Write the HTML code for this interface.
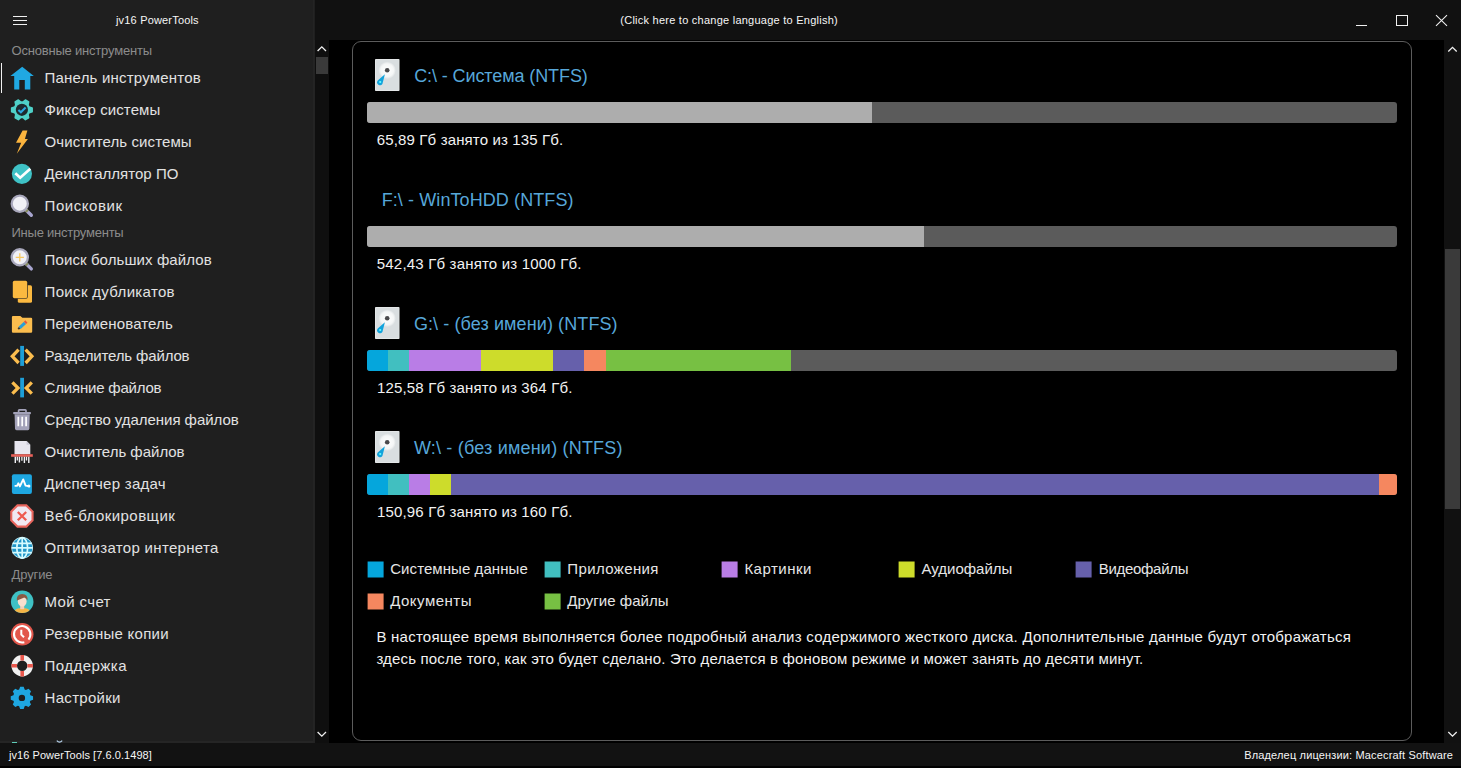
<!DOCTYPE html>
<html lang="ru">
<head>
<meta charset="utf-8">
<title>jv16 PowerTools</title>
<style>
html,body{margin:0;padding:0;}
body{width:1461px;height:768px;overflow:hidden;background:#000;font-family:"Liberation Sans",sans-serif;color:#e4e4e4;position:relative;}
*{box-sizing:border-box;}
.abs{position:absolute;}
.t{position:absolute;white-space:nowrap;line-height:1;transform-origin:0 50%;}
/* regions */
#titlebar{left:315px;top:0;width:1146px;height:40px;background:#111;}
#sidebar{left:0;top:0;width:315px;height:743px;background:#1f1f1f;overflow:hidden;}
#sbsep{left:313px;top:0;width:1px;height:743px;background:#242424;}
#sbsep2{left:314px;top:40px;width:1px;height:703px;background:#232323;}
#lscroll{left:315px;top:40px;width:14px;height:703px;background:#0f0f0f;}
#rscroll{left:1444px;top:40px;width:17px;height:703px;background:#111;}
#status{left:0;top:743px;width:1461px;height:25px;background:#121212;}
#statusb{left:0;top:766px;width:1461px;height:2px;background:#000;}
#panel{left:352px;top:41px;width:1060px;height:700px;border:1px solid #5c5c5c;border-radius:9px;background:#000;}
.thumb{background:#3a3a3a;}
/* sidebar */
.sec{color:#8c8c8c;font-size:13px;left:11px;}
.it{color:#e2e2e2;font-size:16px;left:44px;}
.ic{position:absolute;left:10px;width:24px;height:24px;}
/* content */
.dt{color:#57a7d9;font-size:18px;}
.du{color:#f2f2f2;font-size:14.5px;left:376px;}
.bar{position:absolute;left:367px;width:1030px;height:21px;border-radius:3px;background:#5b5b5b;overflow:hidden;}
.bar i{position:absolute;top:0;height:21px;display:block;}
.lg{position:absolute;width:16px;height:16px;transform:translate(-0.4px,-0.5px);}
.lt{color:#e6e6e6;font-size:15px;}
.c1{background:#05a6dc;}.c2{background:#41bfc0;}.c3{background:#b97de6;}.c4{background:#cddc2b;}.c5{background:#6660ab;}.c6{background:#f5875f;}.c7{background:#77c043;}
.small{font-size:11px;color:#f6f6f6;}
</style>
</head>
<body>
<div id="titlebar" class="abs"></div>
<div id="sidebar" class="abs"></div>
<div id="sbsep" class="abs"></div>
<div id="sbsep2" class="abs"></div>
<div id="lscroll" class="abs"></div>
<div id="rscroll" class="abs"></div>
<div id="panel" class="abs"></div>
<div id="status" class="abs"></div>
<div id="statusb" class="abs"></div>
<!-- hamburger -->
<div class="abs" style="left:13px;top:16px;width:14px;height:1px;background:#f0f0f0"></div>
<div class="abs" style="left:13px;top:20px;width:14px;height:1px;background:#f0f0f0"></div>
<div class="abs" style="left:13px;top:24px;width:14px;height:1px;background:#f0f0f0"></div>
<!-- clipped language link at sidebar bottom -->
<div class="abs" style="left:0;top:741px;width:313px;height:2px;background:#252525"></div>
<div class="abs" style="left:12px;top:742px;width:5px;height:1px;background:#5fcdb8"></div>
<svg class="abs" style="left:56px;top:740px" width="7" height="3" viewBox="0 0 7 3"><path d="M0.8 0.6 Q3.5 3.6 6.2 0.6" fill="none" stroke="#b8d4ee" stroke-width="1.2"/></svg>
<!-- selected marker -->
<div class="abs" style="left:1px;top:63px;width:1px;height:30px;background:#f2f2f2"></div>
<!-- window controls -->
<svg class="abs" style="left:1350px;top:8px" width="104" height="24" viewBox="0 0 104 24" fill="none" stroke="#f0f0f0" stroke-width="1">
<path d="M6 17.5H17"/>
<rect x="46.5" y="7.5" width="11" height="10"/>
<path d="M86 7.2 L97 17.8 M97 7.2 L86 17.8" stroke-width="1.1"/>
</svg>
<!-- left scrollbar -->
<svg class="abs" style="left:315px;top:40px" width="14" height="20" viewBox="0 0 14 20" fill="none" stroke="#f0f0f0" stroke-width="1.3"><path d="M2.6 11 L6.8 6.8 L11 11"/></svg>
<div class="abs thumb" style="left:316px;top:57px;width:12px;height:17px"></div>
<svg class="abs" style="left:315px;top:723px" width="14" height="20" viewBox="0 0 14 20" fill="none" stroke="#f0f0f0" stroke-width="1.3"><path d="M2.6 9 L6.8 13.2 L11 9"/></svg>
<!-- right scrollbar -->
<svg class="abs" style="left:1444px;top:40px" width="17" height="20" viewBox="0 0 17 20" fill="none" stroke="#f0f0f0" stroke-width="1.3"><path d="M4.3 11.5 L8.5 7.3 L12.7 11.5"/></svg>
<div class="abs thumb" style="left:1445px;top:249px;width:15px;height:260px"></div>
<svg class="abs" style="left:1444px;top:723px" width="17" height="20" viewBox="0 0 17 20" fill="none" stroke="#f0f0f0" stroke-width="1.3"><path d="M4.3 9 L8.5 13.2 L12.7 9"/></svg>
<!-- bars -->
<div class="bar" style="top:102px"><i style="left:0;width:505px;background:#adadad"></i></div>
<div class="bar" style="top:226px"><i style="left:0;width:557px;background:#adadad"></i></div>
<div class="bar" style="top:350px"><i class="c1" style="left:0;width:21px"></i><i class="c2" style="left:21px;width:21px"></i><i class="c3" style="left:42px;width:72px"></i><i class="c4" style="left:114px;width:72px"></i><i class="c5" style="left:186px;width:31px"></i><i class="c6" style="left:217px;width:22px"></i><i class="c7" style="left:239px;width:185px"></i></div>
<div class="bar" style="top:474px"><i class="c1" style="left:0;width:21px"></i><i class="c2" style="left:21px;width:21px"></i><i class="c3" style="left:42px;width:21px"></i><i class="c4" style="left:63px;width:21px"></i><i class="c5" style="left:84px;width:928px"></i><i class="c6" style="left:1012px;width:18px"></i></div>
<!-- legend -->
<div class="lg c1" style="left:368px;top:562px"></div>
<div class="lg c2" style="left:545px;top:562px"></div>
<div class="lg c3" style="left:722px;top:562px"></div>
<div class="lg c4" style="left:899px;top:562px"></div>
<div class="lg c5" style="left:1076px;top:562px"></div>
<div class="lg c6" style="left:368px;top:594px"></div>
<div class="lg c7" style="left:545px;top:594px"></div>

<svg class="ic" style="top:65px" viewBox="0 0 24 24" overflow="visible"><path fill="#20a8e2" d="M12.2 1.7 L23.8 10.9 L20.3 10.9 L20.3 24.4 L14.8 24.4 L14.8 15 L9.3 15 L9.3 24.4 L4.2 24.4 L4.2 10.9 L0.4 10.9 Z"/></svg>
<svg class="ic" style="top:97px" viewBox="0 0 24 24" overflow="visible"><path fill="#4fd1c8" stroke="#4fd1c8" stroke-width="1.6" stroke-linejoin="round" d="M19.03 9.89 L22.14 10.96 L22.14 14.64 L19.03 15.71 L17.98 17.52 L18.61 20.74 L15.42 22.59 L12.95 20.43 L10.85 20.43 L8.38 22.59 L5.19 20.74 L5.82 17.52 L4.77 15.71 L1.66 14.64 L1.66 10.96 L4.77 9.89 L5.82 8.08 L5.19 4.86 L8.38 3.01 L10.85 5.17 L12.95 5.17 L15.42 3.01 L18.61 4.86 L17.98 8.08Z"/><circle cx="11.9" cy="12.8" r="6.1" fill="#1d2a2e"/><path d="M8.4 12.9 L10.9 15.2 L15.6 10.6" fill="none" stroke="#2ba7e0" stroke-width="2.1"/></svg>
<svg class="ic" style="top:129px" viewBox="0 0 24 24" overflow="visible"><path fill="#fbb43e" d="M12.6 1.4 L17.4 1.4 L14.9 9.9 L17.9 9.9 L6.8 24.7 L11.2 13.8 L6 13.8 Z"/></svg>
<svg class="ic" style="top:161px" viewBox="0 0 24 24" overflow="visible"><circle cx="11.9" cy="12.8" r="10.1" fill="#3fc2c6"/><path d="M5.3 12.2 L10.2 16.7 L20.3 7.7" fill="none" stroke="#fff" stroke-width="2.7"/></svg>
<svg class="ic" style="top:193px" viewBox="0 0 24 24" overflow="visible"><path d="M15.2 16.2 L21.3 22.3" stroke="#a8a5cf" stroke-width="3.4" stroke-linecap="round"/><path d="M14.6 15.6 L17.6 18.6" stroke="#868b5c" stroke-width="3.2"/><circle cx="9.8" cy="10.7" r="8.1" fill="#f1f1f6" stroke="#a9a8bc" stroke-width="2.3"/></svg>
<svg class="ic" style="top:247px" viewBox="0 0 24 24" overflow="visible"><g transform="translate(0,-0.4)"><path d="M15.2 16.2 L21.3 22.3" stroke="#a8a5cf" stroke-width="3.4" stroke-linecap="round"/><path d="M14.6 15.6 L17.6 18.6" stroke="#868b5c" stroke-width="3.2"/><circle cx="9.8" cy="10.7" r="8.1" fill="#f1f1f6" stroke="#a9a8bc" stroke-width="2.3"/><path d="M9.8 6.6 V14.8 M5.7 10.7 H13.9" stroke="#f8c860" stroke-width="1.3"/></g></svg>
<svg class="ic" style="top:279px" viewBox="0 0 24 24" overflow="visible"><rect x="7.8" y="6.3" width="14.2" height="17.5" rx="1.6" fill="#fbb940"/><rect x="2.2" y="1.2" width="15.6" height="18.6" rx="2.2" fill="#1f1f1f"/><rect x="2.8" y="1.8" width="14.4" height="17.4" rx="1.6" fill="#fbb940"/></svg>
<svg class="ic" style="top:311px" viewBox="0 0 24 24" overflow="visible"><path fill="#fbbd4e" d="M3 4.9 H10.3 L12.4 6.8 H21 Q22.2 6.8 22.2 8 V20.6 Q22.2 21.8 21 21.8 H3 Q1.9 21.8 1.9 20.6 V6 Q1.9 4.9 3 4.9Z"/><path d="M9.6 16.8 L15 11.8" stroke="#2a9fd8" stroke-width="3.1"/><path d="M15 11.8 L16.4 10.5" stroke="#e8523f" stroke-width="3.1"/><path d="M8.2 18.1 L9.6 16.8" stroke="#3a3a3a" stroke-width="2"/></svg>
<svg class="ic" style="top:343px" viewBox="0 0 24 24" overflow="visible"><rect x="10.2" y="2.9" width="3.8" height="20" fill="#1e9fd8"/><path d="M8.6 6.6 L2.3 13.3 L8.6 20" fill="none" stroke="#fbbd4e" stroke-width="3.3"/><path d="M15.6 6.6 L21.9 13.3 L15.6 20" fill="none" stroke="#fbbd4e" stroke-width="3.3"/></svg>
<svg class="ic" style="top:375px" viewBox="0 0 24 24" overflow="visible"><rect x="10.2" y="2.8" width="3.8" height="19.6" fill="#1e9fd8"/><path d="M2.4 7.4 L8 13 L2.4 18.7" fill="none" stroke="#fbbd4e" stroke-width="3.3"/><path d="M21.8 7.4 L16.2 13 L21.8 18.7" fill="none" stroke="#fbbd4e" stroke-width="3.3"/></svg>
<svg class="ic" style="top:407px" viewBox="0 0 24 24" overflow="visible"><path d="M8.6 5.2 V3.6 Q8.6 2.8 9.4 2.8 H15.2 Q16 2.8 16 3.6 V5.2" fill="none" stroke="#a3a2b9" stroke-width="1.7"/><rect x="3.2" y="5" width="17.7" height="2.2" rx="0.6" fill="#a3a2b9"/><path fill="#a3a2b9" d="M4.6 7.2 H19.8 L19.4 21.6 Q19.3 23.2 17.8 23.2 H6.6 Q5.1 23.2 5 21.6Z"/><path d="M8.3 9.7 V19.2 M12.2 9.7 V19.2 M16.1 9.7 V19.2" stroke="#fff" stroke-width="1.7"/></svg>
<svg class="ic" style="top:439px" viewBox="0 0 24 24" overflow="visible"><path fill="#e7e6ef" d="M4.5 2 H16.6 L20.3 5.7 V15.2 H4.5Z"/><path fill="#c9c8d6" d="M16.6 2 V5.7 H20.3Z"/><rect x="1.1" y="15.2" width="21.7" height="2.6" fill="#e8615a"/><path d="M5.3 17.8 V24 M9.4 17.8 V23.6 M14.4 17.8 V24 M18.8 17.8 V24" stroke="#f2f2f6" stroke-width="1.4"/><path d="M7.3 17.8 V21.5 M11.9 17.8 V21.8 M16.5 17.8 V21.4" stroke="#f2f2f6" stroke-width="1.3"/></svg>
<svg class="ic" style="top:471px" viewBox="0 0 24 24" overflow="visible"><rect x="1.9" y="3.2" width="20" height="19.7" rx="2" fill="#1ea7e1"/><path d="M4.6 14.9 H7 L8.3 12.3 L9.9 15.4 L13.2 8.4 L15.6 14.6 L19.9 15.2" fill="none" stroke="#fff" stroke-width="1.9" stroke-linejoin="round"/><circle cx="18.9" cy="14.9" r="1.5" fill="#fff"/></svg>
<svg class="ic" style="top:503px" viewBox="0 0 24 24" overflow="visible"><path d="M23.60 17.85 L16.75 24.70 L7.05 24.70 L0.20 17.85 L0.20 8.15 L7.05 1.30 L16.75 1.30 L23.60 8.15Z" fill="#e8655d"/><path d="M21.50 16.98 L15.88 22.60 L7.92 22.60 L2.30 16.98 L2.30 9.02 L7.92 3.40 L15.88 3.40 L21.50 9.02Z" fill="#f0e9f3"/><path d="M7.8 9 L16.2 17.2 M16.2 9 L7.8 17.2" stroke="#ee5a50" stroke-width="2.3"/></svg>
<svg class="ic" style="top:535px" viewBox="0 0 24 24" overflow="visible"><circle cx="12.2" cy="12.9" r="10.8" fill="#bfeef8"/><circle cx="12.2" cy="12.9" r="10.2" fill="#2196c8"/><g fill="none" stroke="#d6fbff" stroke-width="1.7"><path d="M2.6 8.4 H21.8 M1.6 12.9 H22.8 M2.6 17.6 H21.8 M12.2 2.2 V23.6"/><ellipse cx="12.2" cy="12.9" rx="5.4" ry="10.3"/></g></svg>
<svg class="ic" style="top:589px" viewBox="0 0 24 24" overflow="visible"><defs><clipPath id="ac"><circle cx="12.2" cy="12.8" r="11.3"/></clipPath></defs><circle cx="12.2" cy="12.8" r="11.3" fill="#3fc1c4"/><g clip-path="url(#ac)"><path d="M3.5 25 Q4 19.6 9 19.2 H15.4 Q20.4 19.6 20.9 25Z" fill="#f6b445"/><rect x="10.2" y="15" width="4" height="5.2" fill="#f3cfb8"/><ellipse cx="12.2" cy="12.4" rx="4.4" ry="5.2" fill="#f8dfce"/><path d="M6.9 11.6 Q6.2 5 12.2 4.9 Q18.2 5 17.5 11.6 Q16.3 9.2 14.2 8.6 Q11 10 6.9 11.6Z" fill="#8a5a44"/></g></svg>
<svg class="ic" style="top:621px" viewBox="0 0 24 24" overflow="visible"><circle cx="12.2" cy="13.3" r="11.3" fill="#e2574c"/><path d="M14.32 21.22 A8.2 8.2 0 1 1 18.48 18.57" fill="none" stroke="#fff" stroke-width="2.1"/><path d="M11.3 8.8 V13.6 L14 16.3" fill="none" stroke="#fff" stroke-width="2"/></svg>
<svg class="ic" style="top:653px" viewBox="0 0 24 24" overflow="visible"><circle cx="12.2" cy="12.8" r="7.95" fill="none" stroke="#f1f1f1" stroke-width="5.5"/><path d="M12.2 2.1 V7.6 M12.2 18 V23.5 M1.5 12.8 H7 M17.4 12.8 H22.9" stroke="#e9574c" stroke-width="3.6"/></svg>
<svg class="ic" style="top:685px" viewBox="0 0 24 24" overflow="visible"><path fill="#1ea7e1" fill-rule="evenodd" d="M14.65 21.36 L13.67 24.06 L10.13 24.06 L9.15 21.36 L7.86 20.83 L5.26 22.04 L2.76 19.54 L3.97 16.94 L3.44 15.65 L0.74 14.67 L0.74 11.13 L3.44 10.15 L3.97 8.86 L2.76 6.26 L5.26 3.76 L7.86 4.97 L9.15 4.44 L10.13 1.74 L13.67 1.74 L14.65 4.44 L15.94 4.97 L18.54 3.76 L21.04 6.26 L19.83 8.86 L20.36 10.15 L23.06 11.13 L23.06 14.67 L20.36 15.65 L19.83 16.94 L21.04 19.54 L18.54 22.04 L15.94 20.83Z M15.1 12.9 A3.2 3.2 0 1 0 8.7 12.9 A3.2 3.2 0 1 0 15.1 12.9Z"/></svg>
<svg class="abs" style="left:375px;top:59px" width="25" height="32" viewBox="0 0 25 32"><defs><radialGradient id="pl0" cx="50%" cy="50%" r="50%"><stop offset="0" stop-color="#ffffff"/><stop offset="0.75" stop-color="#f4f6f6"/><stop offset="1" stop-color="#dde1e3"/></radialGradient></defs><rect x="0" y="0" width="24.5" height="32" rx="0.8" fill="#e6e9ea"/><rect x="0.8" y="0.8" width="22.9" height="30.4" fill="#d9dee0"/><circle cx="12.2" cy="11.3" r="8.6" fill="url(#pl0)"/><circle cx="12.2" cy="11.3" r="2.3" fill="#4a4a4c"/><path d="M9.9 15.2 L2.7 21.6 A2.9 2.9 0 1 0 7.4 25 Z" fill="#12a3dc"/><circle cx="5.2" cy="23" r="1.1" fill="#6ff"/></svg>
<svg class="abs" style="left:375px;top:307px" width="25" height="32" viewBox="0 0 25 32"><defs><radialGradient id="pl1" cx="50%" cy="50%" r="50%"><stop offset="0" stop-color="#ffffff"/><stop offset="0.75" stop-color="#f4f6f6"/><stop offset="1" stop-color="#dde1e3"/></radialGradient></defs><rect x="0" y="0" width="24.5" height="32" rx="0.8" fill="#e6e9ea"/><rect x="0.8" y="0.8" width="22.9" height="30.4" fill="#d9dee0"/><circle cx="12.2" cy="11.3" r="8.6" fill="url(#pl1)"/><circle cx="12.2" cy="11.3" r="2.3" fill="#4a4a4c"/><path d="M9.9 15.2 L2.7 21.6 A2.9 2.9 0 1 0 7.4 25 Z" fill="#12a3dc"/><circle cx="5.2" cy="23" r="1.1" fill="#6ff"/></svg>
<svg class="abs" style="left:375px;top:431px" width="25" height="32" viewBox="0 0 25 32"><defs><radialGradient id="pl2" cx="50%" cy="50%" r="50%"><stop offset="0" stop-color="#ffffff"/><stop offset="0.75" stop-color="#f4f6f6"/><stop offset="1" stop-color="#dde1e3"/></radialGradient></defs><rect x="0" y="0" width="24.5" height="32" rx="0.8" fill="#e6e9ea"/><rect x="0.8" y="0.8" width="22.9" height="30.4" fill="#d9dee0"/><circle cx="12.2" cy="11.3" r="8.6" fill="url(#pl2)"/><circle cx="12.2" cy="11.3" r="2.3" fill="#4a4a4c"/><path d="M9.9 15.2 L2.7 21.6 A2.9 2.9 0 1 0 7.4 25 Z" fill="#12a3dc"/><circle cx="5.2" cy="23" r="1.1" fill="#6ff"/></svg>
<div class="t small" style="left:116.0px;top:14.7px;font-size:11px;letter-spacing:0.179px;">jv16 PowerTools</div>
<div class="t sec" style="left:11.5px;top:44.0px;font-size:13px;letter-spacing:-0.199px;">Основные инструменты</div>
<div class="t sec" style="left:11.5px;top:226.0px;font-size:13px;letter-spacing:-0.232px;">Иные инструменты</div>
<div class="t sec" style="left:11.5px;top:568.0px;font-size:13px;letter-spacing:-0.105px;">Другие</div>
<div class="t it" style="left:44.6px;top:70.1px;font-size:15px;letter-spacing:0.201px;">Панель инструментов</div>
<div class="t it" style="left:44.6px;top:102.1px;font-size:15px;letter-spacing:0.101px;">Фиксер системы</div>
<div class="t it" style="left:44.6px;top:134.1px;font-size:15px;letter-spacing:0.093px;">Очиститель системы</div>
<div class="t it" style="left:44.6px;top:166.1px;font-size:15px;letter-spacing:0.030px;">Деинсталлятор ПО</div>
<div class="t it" style="left:44.6px;top:198.1px;font-size:15px;letter-spacing:0.550px;">Поисковик</div>
<div class="t it" style="left:44.6px;top:252.1px;font-size:15px;letter-spacing:0.096px;">Поиск больших файлов</div>
<div class="t it" style="left:44.6px;top:284.1px;font-size:15px;letter-spacing:0.325px;">Поиск дубликатов</div>
<div class="t it" style="left:44.6px;top:316.1px;font-size:15px;letter-spacing:0.128px;">Переименователь</div>
<div class="t it" style="left:44.6px;top:348.1px;font-size:15px;letter-spacing:-0.150px;">Разделитель файлов</div>
<div class="t it" style="left:44.6px;top:380.1px;font-size:15px;letter-spacing:-0.197px;">Слияние файлов</div>
<div class="t it" style="left:44.6px;top:412.1px;font-size:15px;letter-spacing:-0.042px;">Средство удаления файлов</div>
<div class="t it" style="left:44.6px;top:444.1px;font-size:15px;letter-spacing:-0.012px;">Очиститель файлов</div>
<div class="t it" style="left:44.6px;top:476.1px;font-size:15px;letter-spacing:0.261px;">Диспетчер задач</div>
<div class="t it" style="left:44.6px;top:508.1px;font-size:15px;letter-spacing:0.455px;">Веб-блокировщик</div>
<div class="t it" style="left:44.6px;top:540.1px;font-size:15px;letter-spacing:0.320px;">Оптимизатор интернета</div>
<div class="t it" style="left:44.6px;top:594.1px;font-size:15px;letter-spacing:0.354px;">Мой счет</div>
<div class="t it" style="left:44.6px;top:626.1px;font-size:15px;letter-spacing:0.268px;">Резервные копии</div>
<div class="t it" style="left:44.6px;top:658.1px;font-size:15px;letter-spacing:0.454px;">Поддержка</div>
<div class="t it" style="left:44.6px;top:690.1px;font-size:15px;letter-spacing:0.292px;">Настройки</div>
<div class="t small" style="left:9.0px;top:749.7px;font-size:11px;letter-spacing:0.057px;">jv16 PowerTools [7.6.0.1498]</div>
<div class="t small" style="left:1244.2px;top:749.7px;font-size:11px;letter-spacing:0.159px;">Владелец лицензии: Macecraft Software</div>
<div class="t small" style="left:620.3px;top:14.7px;font-size:11px;letter-spacing:0.246px;">(Click here to change language to English)</div>
<div class="t dt" style="left:414.2px;top:67.3px;font-size:18px;letter-spacing:-0.099px;">C:\ - Система (NTFS)</div>
<div class="t dt" style="left:381.7px;top:191.3px;font-size:18px;letter-spacing:0.091px;">F:\ - WinToHDD (NTFS)</div>
<div class="t dt" style="left:413.9px;top:315.3px;font-size:18px;letter-spacing:0.100px;">G:\ - (без имени) (NTFS)</div>
<div class="t dt" style="left:413.9px;top:439.3px;font-size:18px;letter-spacing:0.198px;">W:\ - (без имени) (NTFS)</div>
<div class="t du" style="left:376.8px;top:131.9px;font-size:15px;letter-spacing:0.142px;">65,89 Гб занято из 135 Гб.</div>
<div class="t du" style="left:376.8px;top:255.9px;font-size:15px;letter-spacing:0.185px;">542,43 Гб занято из 1000 Гб.</div>
<div class="t du" style="left:377.0px;top:379.9px;font-size:15px;letter-spacing:0.159px;">125,58 Гб занято из 364 Гб.</div>
<div class="t du" style="left:377.0px;top:503.9px;font-size:15px;letter-spacing:0.159px;">150,96 Гб занято из 160 Гб.</div>
<div class="t lt" style="left:390.2px;top:560.8px;font-size:15px;letter-spacing:0.077px;">Системные данные</div>
<div class="t lt" style="left:567.3px;top:560.8px;font-size:15px;letter-spacing:0.382px;">Приложения</div>
<div class="t lt" style="left:744.4px;top:560.8px;font-size:15px;letter-spacing:0.489px;">Картинки</div>
<div class="t lt" style="left:921.4px;top:560.8px;font-size:15px;letter-spacing:0.009px;">Аудиофайлы</div>
<div class="t lt" style="left:1098.7px;top:560.8px;font-size:15px;letter-spacing:-0.291px;">Видеофайлы</div>
<div class="t lt" style="left:390.2px;top:592.8px;font-size:15px;letter-spacing:0.496px;">Документы</div>
<div class="t lt" style="left:567.3px;top:592.8px;font-size:15px;letter-spacing:0.037px;">Другие файлы</div>
<div class="t du" style="left:376.4px;top:628.9px;font-size:15px;letter-spacing:0.238px;">В настоящее время выполняется более подробный анализ содержимого жесткого диска. Дополнительные данные будут отображаться</div>
<div class="t du" style="left:376.4px;top:650.9px;font-size:15px;letter-spacing:0.164px;">здесь после того, как это будет сделано. Это делается в фоновом режиме и может занять до десяти минут.</div>
</body>
</html>
